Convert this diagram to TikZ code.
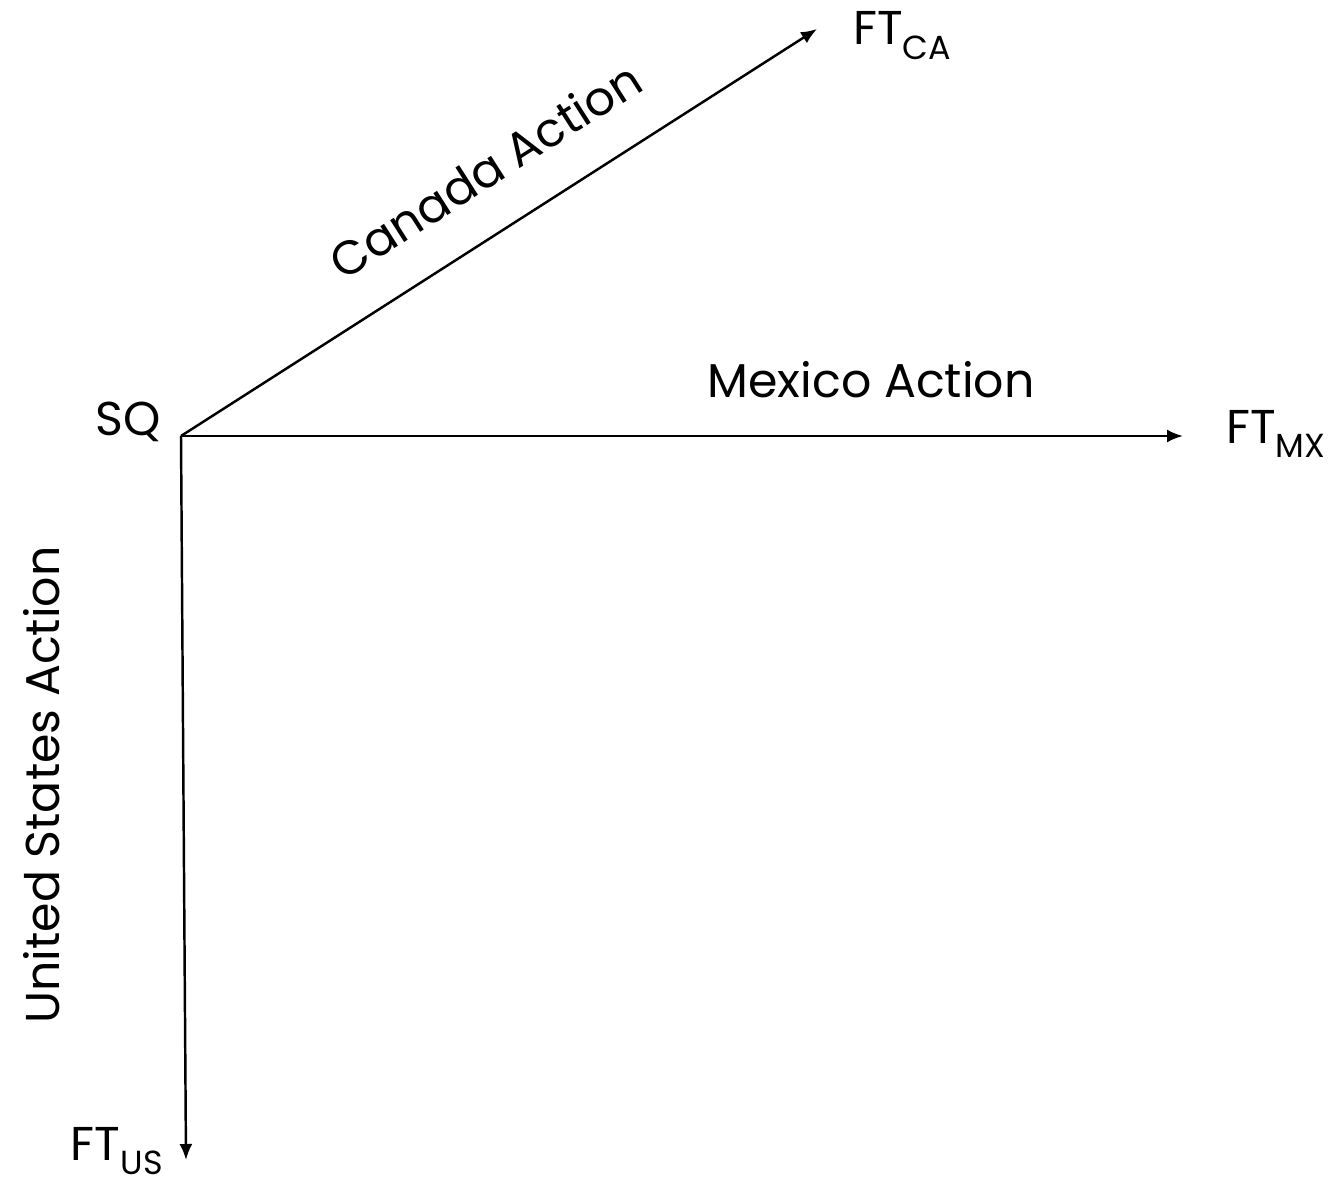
\documentclass[tikz,border=0pt]{standalone}
\usepackage{fontspec}
\setmainfont{Poppins}
\usetikzlibrary{arrows.meta, positioning}
\newcommand{\lowsub}[1]{\raisebox{-0.3em}{\fontsize{19}{22}\selectfont #1}}

\begin{document}
\begin{tikzpicture}[x=0.02cm, y=-0.02cm,
    lbl/.style={font=\fontsize{27}{32}\selectfont, inner sep=0pt},
    act/.style={line width=1.4pt, -{Latex[length=0.32cm, width=0.26cm]}}]
            % Fixed frame for the page size
            \path[use as bounding box] (0,0) rectangle (1332,1189);

            % Corners of the arrows
            \coordinate (o) at (181,436);
            \coordinate (ca) at (817,29);
            \coordinate (mx) at (1183,436);
            \coordinate (us) at (186,1160);

            % Create nodes
            \node[lbl, anchor=base east] (sq) at (161,436) {SQ};
            \node[lbl, anchor=base west] (ftca) at (853,45) {FT\lowsub{CA}};
            \node[lbl, anchor=base west] (ftmx) at (1226,443) {FT\lowsub{MX}};
            \node[lbl, anchor=base east] (ftus) at (163,1160) {FT\lowsub{US}};

            % Connections
            \draw[act] (o) -- (ca);
            \draw[act] (o) -- (mx);
            \draw[act] (o) -- (us);

            % Action labels
            \node[lbl, rotate=32.5] (canada) at (485,170) {Canada Action};
            \node[lbl] (mexico) at (871,380) {Mexico Action};
            \node[lbl, rotate=90] (unitedstates) at (42,785) {United States Action};
        \end{tikzpicture}
\end{document}
